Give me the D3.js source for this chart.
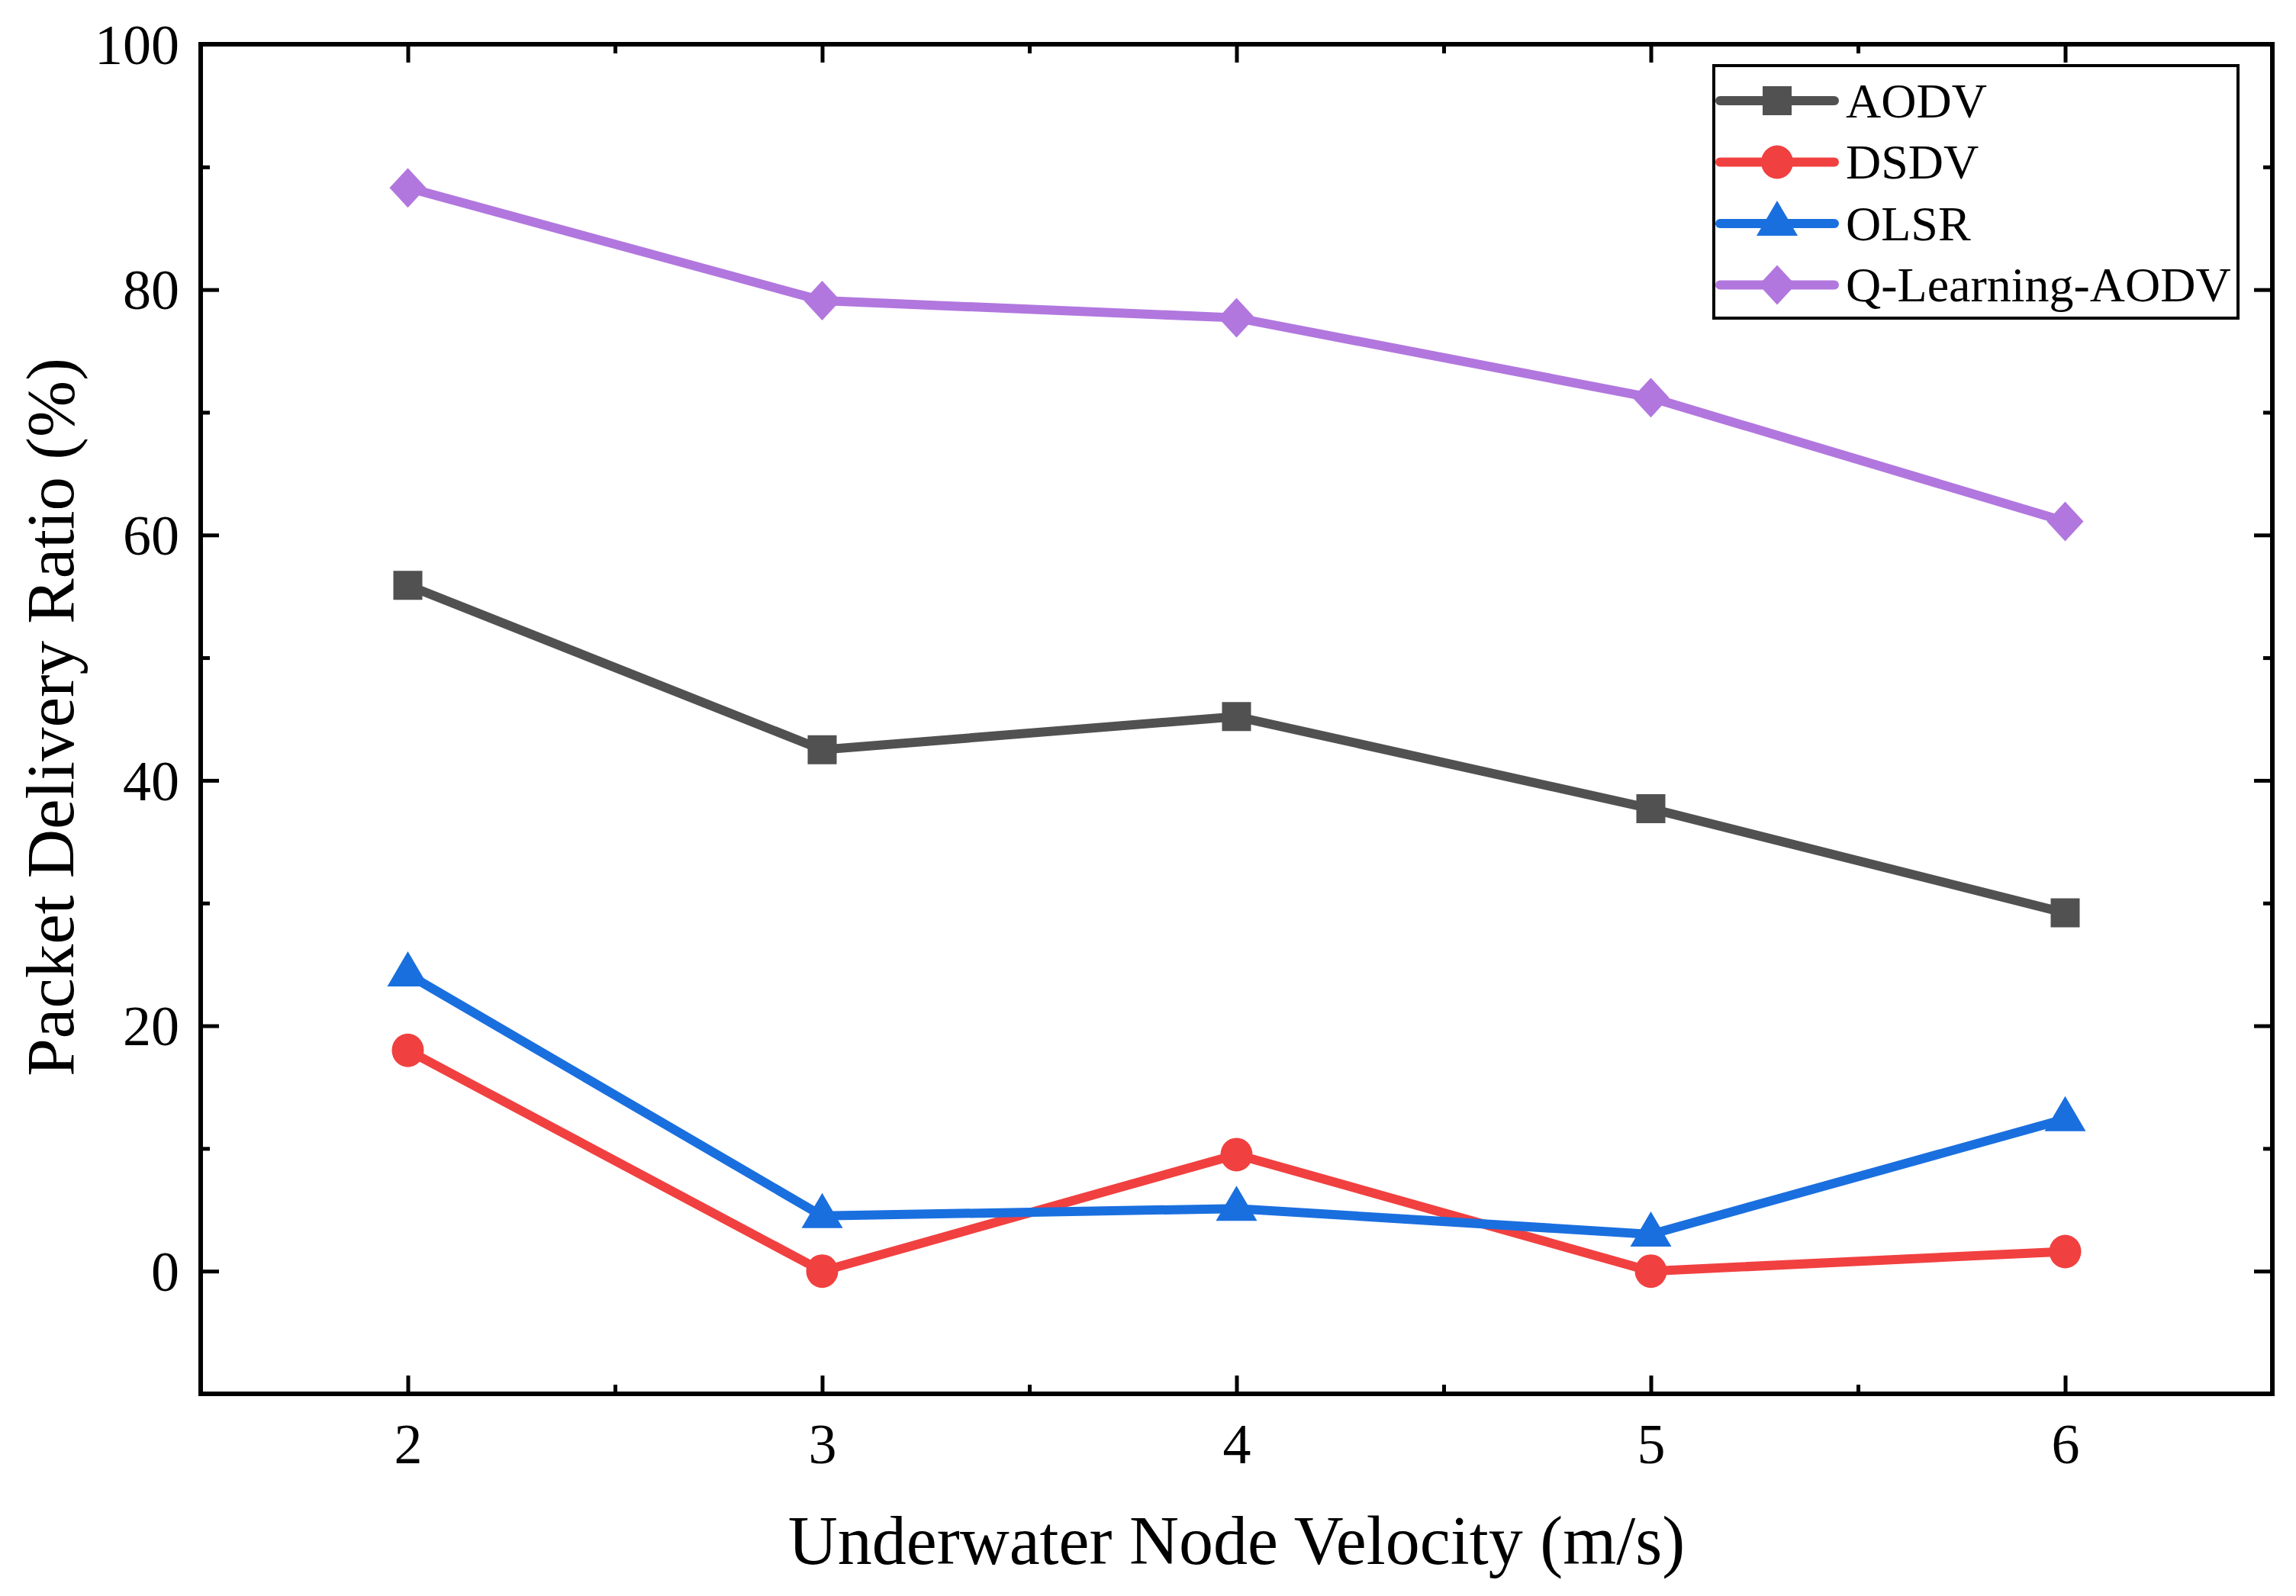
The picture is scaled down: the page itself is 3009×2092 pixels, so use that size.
<!DOCTYPE html>
<html>
<head>
<meta charset="utf-8">
<script src="https://cdn.jsdelivr.net/npm/d3@7"></script>
<style>
  body { margin: 0; background: #fff; }
  text { font-family: "Liberation Serif", "Times New Roman", serif; fill: #000; }
</style>
</head>
<body>
<svg id="chart" width="3009" height="2092"></svg>
<script>
var velocity = [2, 3, 4, 5, 6];
var seriesNames = ['AODV', 'DSDV', 'OLSR', 'Q-Learning-AODV'];
var aodv = [55.9, 42.5, 45.2, 37.7, 29.2];
var dsdv = [18.0, 0.0, 9.5, 0.0, 1.6];
var olsr = [24.2, 4.5, 5.1, 3.0, 12.4];
var qlAodv = [88.3, 79.1, 77.7, 71.2, 61.1];
var xTicks = [2, 3, 4, 5, 6];
var yTicks = [0, 20, 40, 60, 80, 100];

var colors = ['#515151', '#F14040', '#1A6FDF', '#B177DE'];
var shapes = ['square', 'circle', 'triangle', 'diamond'];
var allSeries = [aodv, dsdv, olsr, qlAodv];

var margin = {left: 263, top: 58, right: 31, bottom: 265};
var W = 3009, H = 2092;
var w = W - margin.left - margin.right, h = H - margin.top - margin.bottom;

var svg = d3.select('#chart');
var g = svg.append('g').attr('transform', 'translate(' + margin.left + ',' + margin.top + ')');

var x = d3.scaleLinear().domain([1.5, 6.5]).range([0, w]);
var y = d3.scaleLinear().domain([-10, 100]).range([h, 0]);

var minorX = d3.range(2.5, 6.5, 1);
var minorY = d3.range(-10, 100, 20).filter(function(v){ return v > -10; });

function styleAxis(sel) {
    sel.select('.domain').remove();
    sel.selectAll('.tick line').attr('stroke', '#000').attr('stroke-width', 5);
    sel.selectAll('.tick text').style('font-size', '74px').attr('fill', '#000');
}

// major ticks with labels
var gx = g.append('g').attr('transform', 'translate(0,' + h + ')')
    .call(d3.axisBottom(x).tickValues(xTicks).tickSize(-24).tickPadding(38).tickFormat(d3.format('d')));
styleAxis(gx);
var gy = g.append('g')
    .call(d3.axisLeft(y).tickValues(yTicks).tickSize(-24).tickPadding(28).tickFormat(d3.format('d')));
styleAxis(gy);
gy.selectAll('.tick text').attr('dy', '0.34em');

// top / right major ticks, and minor ticks on all sides
var gxt = g.append('g').call(d3.axisTop(x).tickValues(xTicks).tickSize(-24).tickFormat(''));
styleAxis(gxt);
var gyr = g.append('g').attr('transform', 'translate(' + w + ',0)')
    .call(d3.axisRight(y).tickValues(yTicks).tickSize(-24).tickFormat(''));
styleAxis(gyr);
[[d3.axisBottom(x).tickValues(minorX), 'translate(0,' + h + ')'],
 [d3.axisTop(x).tickValues(minorX), null],
 [d3.axisLeft(y).tickValues(minorY), null],
 [d3.axisRight(y).tickValues(minorY), 'translate(' + w + ',0)']].forEach(function(a){
    var s = g.append('g').call(a[0].tickSize(-12).tickFormat(''));
    if (a[1]) s.attr('transform', a[1]);
    styleAxis(s);
});

// frame
g.append('rect').attr('x', 0).attr('y', 0).attr('width', w).attr('height', h)
    .attr('fill', 'none').attr('stroke', '#000').attr('stroke-width', 6);

function markerPath(shape) {
    if (shape === 'square') return 'M-19,-19H19V19H-19Z';
    if (shape === 'circle') return 'M-21,0A21,22 0 1,0 21,0A21,22 0 1,0 -21,0Z';
    if (shape === 'triangle') return 'M0,-30L27,16H-27Z';
    return 'M0,-26L24,0L0,26L-24,0Z';
}

var line = d3.line().x(function(d){ return x(d[0]); }).y(function(d){ return y(d[1]); });

allSeries.forEach(function(vals, i) {
    var pts = velocity.map(function(v, k){ return [v, vals[k]]; });
    g.append('path').datum(pts).attr('d', line)
        .attr('fill', 'none').attr('stroke', colors[i]).attr('stroke-width', 12)
        .attr('stroke-linejoin', 'miter');
    g.selectAll('.m' + i).data(pts).enter().append('path')
        .attr('class', 'm' + i)
        .attr('transform', function(d){ return 'translate(' + x(d[0]) + ',' + y(d[1]) + ')'; })
        .attr('d', markerPath(shapes[i]))
        .attr('fill', colors[i]);
});

// axis titles
svg.append('text').attr('x', margin.left + w / 2).attr('y', 2050)
    .attr('text-anchor', 'middle').style('font-size', '90px')
    .text('Underwater Node Velocity (m/s)');
svg.append('text').attr('transform', 'translate(96,' + 940 + ') rotate(-90)')
    .attr('text-anchor', 'middle').style('font-size', '89px')
    .text('Packet Delivery Ratio (%)');

// legend
var lg = svg.append('g');
lg.append('rect').attr('x', 2246).attr('y', 86).attr('width', 687).attr('height', 331)
    .attr('fill', '#fff').attr('stroke', '#000').attr('stroke-width', 4);
seriesNames.forEach(function(name, i) {
    var cy = 132 + i * 80.5;
    lg.append('line').attr('x1', 2254).attr('x2', 2404).attr('y1', cy).attr('y2', cy)
        .attr('stroke', colors[i]).attr('stroke-width', 12).attr('stroke-linecap', 'round');
    lg.append('path').attr('transform', 'translate(2329,' + cy + ')')
        .attr('d', markerPath(shapes[i])).attr('fill', colors[i]);
    lg.append('text').attr('x', 2419).attr('y', cy).attr('dy', '0.34em')
        .style('font-size', '64px').text(name);
});
</script>
</body>
</html>
